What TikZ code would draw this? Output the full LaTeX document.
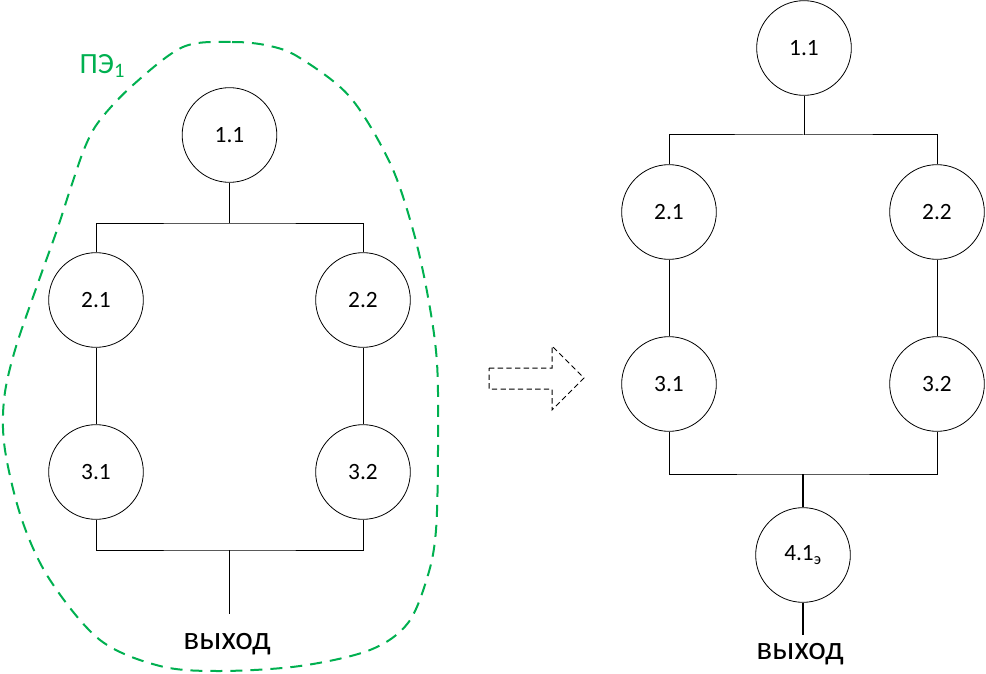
\documentclass[tikz,border=0pt]{standalone}
\usepackage{fontspec}
\setmainfont{Carlito}
\definecolor{pegreen}{RGB}{0,176,80}
\begin{document}
\begin{tikzpicture}[x=0.75pt,y=-0.75pt,
  blk/.style={circle,draw,line width=0.6pt,minimum size=71pt,inner sep=0pt,font=\fontsize{17.5}{20}\selectfont},
  wire/.style={line width=0.75pt},
  thick wire/.style={line width=1.5pt},
  outlbl/.style={font=\fontsize{25}{29}\selectfont},
  boundary/.style={draw=pegreen,line width=1.5pt,dash pattern=on 9pt off 6pt}]
\useasboundingbox (0,0) rectangle (986,674);
% ---- left scheme ----
\node[blk] (l11) at (229.5,135) {1.1};
\node[blk] (l21) at (96,300) {2.1};
\node[blk] (l22) at (363,300) {2.2};
\node[blk] (l31) at (96,472) {3.1};
\node[blk] (l32) at (363,472) {3.2};
\coordinate (ltop) at (229.5,223);
\coordinate (lbot) at (229.5,550);
\coordinate (lend) at (229.5,614);
\node[outlbl] (lout) at (227,644) {выход};
\draw[wire] (l11.south) -- (ltop);
\draw[wire] (l21.north) |- (ltop) -| (l22.north);
\draw[wire] (l21) -- (l31);
\draw[wire] (l22) -- (l32);
\draw[wire] (l31.south) |- (lbot) -| (l32.south);
\draw[wire] (lbot) -- (lend);
% ---- boundary ----
\draw[boundary] plot[smooth cycle,tension=0.55] coordinates {
 (183,47) (232,42) (270,46) (300,58) (350,97) (390,163) (413,230) (428,297)
 (437,363) (438,450) (436,530) (428,575) (408,623) (370,650) (300,666)
 (220,671) (160,666) (100,640) (50,580) (22,520) (5,450) (4,400) (15,350)
 (38,283) (57,230) (70,190) (85,147) (100,120) (133,85)};
\node[text=pegreen,font=\fontsize{22}{26}\selectfont,anchor=west] (pe) at (75,66) {ПЭ\textsubscript{1}};
% ---- arrow ----
\draw[line width=0.75pt,dash pattern=on 4pt off 2.5pt] (489,368) -- (552,368) -- (552,346) -- (584,378) -- (552,410) -- (552,389) -- (489,389) -- cycle;
% ---- right scheme ----
\node[blk] (r11) at (804,48) {1.1};
\node[blk] (r21) at (669,212) {2.1};
\node[blk] (r22) at (937,212) {2.2};
\node[blk] (r31) at (669,384) {3.1};
\node[blk] (r32) at (937,384) {3.2};
\node[blk] (r41) at (803,555) {4.1\textsubscript{э}};
\coordinate (rtop) at (804,135);
\coordinate (rbot) at (803,474);
\coordinate (rend) at (803,635);
\node[outlbl] (rout) at (800,654) {выход};
\draw[wire] (r11.south) -- (rtop);
\draw[wire] (r21.north) |- (rtop) -| (r22.north);
\draw[wire] (r21) -- (r31);
\draw[wire] (r22) -- (r32);
\draw[wire] (r31.south) |- (rbot) -| (r32.south);
\draw[thick wire] (rbot) -- (r41.north);
\draw[thick wire] (r41.south) -- (rend);
\end{tikzpicture}
\end{document}
